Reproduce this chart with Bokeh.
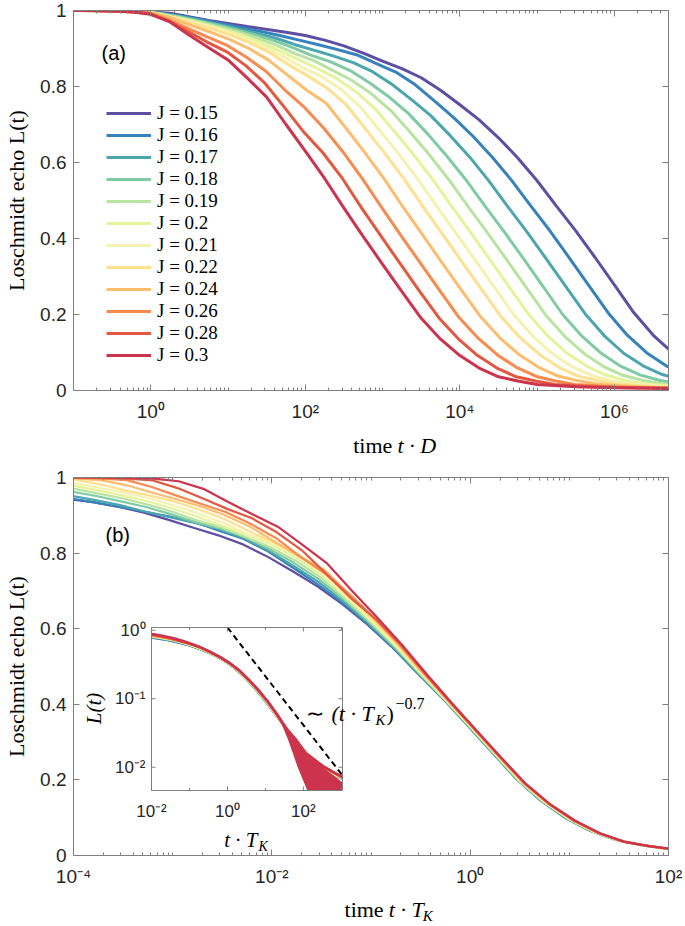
import numpy as np
from bokeh.plotting import figure
from bokeh.models import (FixedTicker, CustomJSTickFormatter, LogAxis, LinearAxis,
                          Legend, LegendItem, Label, Range1d, LogScale)
from bokeh.layouts import column
from bokeh.core.properties import value
from bokeh.embed import file_html
from bokeh.resources import INLINE

# ---------------- data ----------------
J_VALUES = ["0.15", "0.16", "0.17", "0.18", "0.19", "0.2", "0.21", "0.22", "0.24", "0.26", "0.28", "0.3"]
COLORS = ["#5e4fa2", "#3682ba", "#4ba6ae", "#80cba3", "#b9e3a0", "#e5f49b",
          "#f5f2b0", "#fee08f", "#fdbd6c", "#f68a4f", "#e35840", "#cc334c"]

# sample grid: decades of time relative to each curve's half-decay time
DECADES = [-7, -6.5, -6, -5.5, -5, -4.5, -4, -3.5, -3.25, -3, -2.75, -2.5, -2.25, -2, -1.75, -1.5,
           -1.25, -1, -0.75, -0.5, -0.25, 0, 0.25, 0.5, 0.75, 1, 1.25, 1.5, 1.75, 2, 2.25, 2.5,
           3, 3.5, 4, 4.5, 5, 6]
# log10(t*D) of the half-decay point of each curve
LOG10_TD_HALF = [5.25, 4.92, 4.62, 4.33, 4.11, 3.90, 3.71, 3.53, 3.27, 2.99, 2.73, 2.50]
# log10(T_K / D) of each curve (time rescaling of panel b)
LOG10_TK_OVER_D = [-5.79, -5.46, -5.15, -4.85, -4.62, -4.40, -4.20, -4.01, -3.74, -3.45, -3.18, -2.94]

ECHO_J015 = [1.0, 1.0, 1.0, 0.999, 0.993, 0.974, 0.958, 0.943, 0.934, 0.922, 0.907, 0.888, 0.867, 0.847, 0.823, 0.79,
             0.752, 0.712, 0.665, 0.612, 0.552, 0.485, 0.42, 0.35, 0.278, 0.205, 0.146, 0.1, 0.066, 0.043, 0.028, 0.019,
             0.01, 0.007, 0.006, 0.005, 0.005, 0.005]
ECHO_J016 = [1.0, 1.0, 1.0, 1.0, 0.998, 0.985, 0.965, 0.945, 0.934, 0.922, 0.91, 0.897, 0.883, 0.86, 0.838, 0.805,
             0.762, 0.718, 0.669, 0.614, 0.553, 0.485, 0.419, 0.348, 0.276, 0.204, 0.145, 0.099, 0.065, 0.042, 0.028, 0.019,
             0.01, 0.007, 0.006, 0.005, 0.005, 0.005]
ECHO_J017 = [1.0, 1.0, 1.0, 1.0, 0.999, 0.993, 0.975, 0.952, 0.94, 0.927, 0.91, 0.895, 0.88, 0.863, 0.839, 0.806,
             0.766, 0.724, 0.672, 0.616, 0.553, 0.484, 0.417, 0.346, 0.274, 0.202, 0.144, 0.098, 0.065, 0.042, 0.028, 0.018,
             0.01, 0.007, 0.006, 0.005, 0.005, 0.005]
ECHO_J018 = [1.0, 1.0, 1.0, 1.0, 1.0, 0.998, 0.985, 0.963, 0.951, 0.937, 0.922, 0.903, 0.882, 0.865, 0.842, 0.81,
             0.773, 0.73, 0.676, 0.617, 0.554, 0.484, 0.416, 0.345, 0.273, 0.2, 0.143, 0.098, 0.064, 0.041, 0.027, 0.018,
             0.01, 0.007, 0.006, 0.005, 0.005, 0.005]
ECHO_J019 = [1.0, 1.0, 1.0, 1.0, 1.0, 0.999, 0.992, 0.971, 0.958, 0.945, 0.929, 0.91, 0.887, 0.868, 0.842, 0.815,
             0.78, 0.736, 0.679, 0.619, 0.554, 0.483, 0.414, 0.343, 0.271, 0.199, 0.142, 0.097, 0.063, 0.04, 0.027, 0.018,
             0.01, 0.007, 0.006, 0.005, 0.005, 0.005]
ECHO_J020 = [1.0, 1.0, 1.0, 1.0, 1.0, 1.0, 0.995, 0.978, 0.966, 0.952, 0.937, 0.918, 0.896, 0.872, 0.848, 0.822,
             0.787, 0.742, 0.683, 0.621, 0.555, 0.483, 0.413, 0.341, 0.269, 0.198, 0.141, 0.096, 0.063, 0.04, 0.026, 0.017,
             0.01, 0.007, 0.006, 0.005, 0.005, 0.005]
ECHO_J021 = [1.0, 1.0, 1.0, 1.0, 1.0, 1.0, 0.997, 0.985, 0.973, 0.96, 0.945, 0.926, 0.905, 0.88, 0.85, 0.826,
             0.793, 0.747, 0.685, 0.622, 0.555, 0.482, 0.411, 0.34, 0.268, 0.196, 0.14, 0.095, 0.062, 0.039, 0.026, 0.017,
             0.01, 0.007, 0.006, 0.005, 0.005, 0.005]
ECHO_J022 = [1.0, 1.0, 1.0, 1.0, 1.0, 1.0, 0.999, 0.994, 0.982, 0.966, 0.952, 0.936, 0.915, 0.89, 0.858, 0.828,
             0.796, 0.752, 0.688, 0.624, 0.556, 0.482, 0.41, 0.338, 0.266, 0.195, 0.139, 0.095, 0.061, 0.038, 0.026, 0.017,
             0.01, 0.007, 0.006, 0.005, 0.005, 0.005]
ECHO_J024 = [1.0, 1.0, 1.0, 1.0, 1.0, 1.0, 1.0, 0.997, 0.993, 0.98, 0.961, 0.943, 0.924, 0.9, 0.87, 0.83,
             0.79, 0.756, 0.692, 0.626, 0.557, 0.481, 0.409, 0.336, 0.264, 0.194, 0.138, 0.094, 0.061, 0.038, 0.026, 0.017,
             0.01, 0.007, 0.006, 0.005, 0.005, 0.005]
ECHO_J026 = [1.0, 1.0, 1.0, 1.0, 1.0, 1.0, 1.0, 0.999, 0.997, 0.993, 0.975, 0.952, 0.93, 0.908, 0.877, 0.84,
             0.79, 0.745, 0.69, 0.627, 0.557, 0.481, 0.407, 0.335, 0.263, 0.192, 0.137, 0.093, 0.06, 0.037, 0.025, 0.016,
             0.01, 0.007, 0.006, 0.005, 0.005, 0.005]
ECHO_J028 = [1.0, 1.0, 1.0, 1.0, 1.0, 1.0, 1.0, 1.0, 0.999, 0.997, 0.992, 0.972, 0.945, 0.917, 0.892, 0.855,
             0.808, 0.745, 0.68, 0.625, 0.558, 0.48, 0.406, 0.333, 0.261, 0.191, 0.136, 0.092, 0.059, 0.036, 0.025, 0.016,
             0.01, 0.007, 0.006, 0.005, 0.005, 0.005]
ECHO_J030 = [1.0, 1.0, 1.0, 1.0, 1.0, 1.0, 1.0, 1.0, 1.0, 0.999, 0.997, 0.99, 0.97, 0.935, 0.902, 0.87,
             0.822, 0.772, 0.70, 0.63, 0.558, 0.48, 0.405, 0.332, 0.26, 0.19, 0.135, 0.092, 0.059, 0.036, 0.025, 0.016,
             0.01, 0.007, 0.006, 0.005, 0.005, 0.005]
ECHO = [ECHO_J015, ECHO_J016, ECHO_J017, ECHO_J018, ECHO_J019, ECHO_J020,
        ECHO_J021, ECHO_J022, ECHO_J024, ECHO_J026, ECHO_J028, ECHO_J030]

# ticks
Y_TICKS = [0, 0.2, 0.4, 0.6, 0.8, 1]
X_TICKS_A = [1e0, 1e2, 1e4, 1e6]
X_TICKS_B = [1e-4, 1e-2, 1e0, 1e2]
INSET_X_TICKS = [1e-2, 1e0, 1e2]
INSET_X_MINOR = [1e-1, 1e1, 1e3]
INSET_Y_TICKS = [1e-2, 1e-1, 1e0]

# guide line ~ (t T_K)^-0.7 in the inset
POWER_LAW_X = [1.0, 10 ** 3.03]
POWER_LAW_Y = [10 ** 0.04, 10 ** -2.12]
# envelope of the noisy tail of J=0.3 in the inset
NOISE_X = [10 ** 1.3, 10 ** 1.6, 10 ** 1.85, 10 ** 2.1, 10 ** 3.03]
NOISE_TOP = [0.063, 0.036, 0.024, 0.015, 0.006]
NOISE_BOTTOM = [0.063, 0.025, 0.010, 0.0046, 0.0046]

# ---------------- style ----------------
GRAY = "#7f7f7f"
TXT = "#262626"
SANS = "Liberation Sans"
SERIF = "Liberation Serif"
W = 683

SUP_JS = """
const sup = {"-": "\u207b", "0": "\u2070", "1": "\u00b9", "2": "\u00b2", "3": "\u00b3",
             "4": "\u2074", "5": "\u2075", "6": "\u2076", "7": "\u2077", "8": "\u2078", "9": "\u2079"};
const e = Math.round(Math.log10(tick));
let s = "";
for (const c of String(e)) { s += sup[c]; }
return "10" + s;
"""


def minor_list(lo, hi, majors):
    out = []
    for k in range(lo, hi + 1):
        for m in range(1, 10):
            v = m * 10.0 ** k
            if not any(abs(v - M) / M < 1e-9 for M in majors):
                out.append(v)
    return out


def style_axis(ax):
    ax.axis_line_color = GRAY
    ax.major_tick_line_color = GRAY
    ax.minor_tick_line_color = GRAY
    ax.major_tick_in = 6
    ax.major_tick_out = 0
    ax.minor_tick_in = 3
    ax.minor_tick_out = 0
    ax.major_label_text_font = SANS
    ax.major_label_text_font_size = "19px"
    ax.major_label_text_color = TXT
    ax.major_label_standoff = 7
    ax.axis_label_text_font = SERIF
    ax.axis_label_text_font_size = "22px"
    ax.axis_label_text_font_style = "normal"
    ax.axis_label_text_color = "black"


def hide_labels(ax):
    ax.formatter = CustomJSTickFormatter(code="return '';")
    ax.major_label_text_font_size = "0px"
    ax.major_label_standoff = 0


def make_fig(h, xr, top, bottom, xticks, xminor):
    p = figure(width=W, height=h, x_axis_type="log", x_range=xr, y_range=(0, 1),
               output_backend="svg", toolbar_location=None,
               min_border_left=73, min_border_right=15,
               min_border_top=top, min_border_bottom=bottom)
    p.grid.visible = False
    p.outline_line_color = None
    xa = p.xaxis[0]
    xa.ticker = FixedTicker(ticks=xticks, minor_ticks=xminor)
    xa.formatter = CustomJSTickFormatter(code=SUP_JS)
    style_axis(xa)
    xa.major_label_standoff = 10
    ya = p.yaxis[0]
    ya.ticker = FixedTicker(ticks=Y_TICKS, minor_ticks=[])
    ya.formatter = CustomJSTickFormatter(code="return String(tick);")
    style_axis(ya)
    ya.axis_label = "Loschmidt echo L(t)"
    ya.axis_label_standoff = 8
    top_ax = LogAxis(ticker=FixedTicker(ticks=xticks, minor_ticks=xminor))
    right_ax = LinearAxis(ticker=FixedTicker(ticks=Y_TICKS, minor_ticks=[]))
    for ax in (top_ax, right_ax):
        style_axis(ax)
        hide_labels(ax)
    p.add_layout(top_ax, "above")
    p.add_layout(right_ax, "right")
    return p


def strip(h):
    """A bare strip (pixel coordinates, y downwards) that carries an axis title."""
    s = figure(width=W, height=h, x_range=Range1d(0, W), y_range=Range1d(h, 0),
               output_backend="svg", toolbar_location=None, min_border=0,
               x_axis_location=None, y_axis_location=None)
    s.grid.visible = False
    s.outline_line_color = None
    return s


def txt(p, x, y, s, size, font=SERIF, style="normal", align="left", base="middle", color="black", **kw):
    p.add_layout(Label(x=x, y=y, text=s, text_font=font, text_font_size=size, text_font_style=style,
                       text_align=align, text_baseline=base, text_color=color, **kw))


# ---------------- panel (a) ----------------
HA = 430
FA_T, FA_B, FA_L, FA_R = 10, 390, 73, 668
pa = make_fig(HA, (0.1, 10 ** 6.7), FA_T, HA - FA_B, X_TICKS_A, minor_list(-1, 6, X_TICKS_A))
d_arr = np.array(DECADES)
items = []
for j, col, ech, half in zip(J_VALUES, COLORS, ECHO, LOG10_TD_HALF):
    r = pa.line(10.0 ** (d_arr + half), ech, line_color=col, line_width=3)
    items.append(LegendItem(label=value("J = " + j), renderers=[r]))

legend = Legend(items=items, location=(33, 24))
legend.label_text_font = SERIF
legend.label_text_font_size = "19px"
legend.label_text_color = "black"
legend.glyph_width = 45
legend.glyph_height = 22
legend.label_height = 22
legend.label_standoff = 6
legend.spacing = 0
legend.padding = 0
legend.margin = 0
legend.border_line_alpha = 0
legend.background_fill_alpha = 0
pa.add_layout(legend)


def xa_(px):
    return 10 ** (-1 + (px - FA_L) / (FA_R - FA_L) * 7.7)


def ya_(py):
    return (FA_B - py) / (FA_B - FA_T)


txt(pa, xa_(101), ya_(52), "(a)", "20px", font=SANS)

# axis title strip under panel (a): page y 430..464
sa = strip(34)
txt(sa, 366, 15, "time", "22px", align="right")
txt(sa, 372, 15, "t \u00b7 D", "22px", style="italic")

# ---------------- panel (b) ----------------
PB_TOP = HA + 34
HB = 426
FR_L, FR_R, FR_T, FR_B = 73, 668, 477, 855
pb = make_fig(HB, (1e-4, 1e2), FR_T - PB_TOP, PB_TOP + HB - FR_B, X_TICKS_B, minor_list(-4, 2, X_TICKS_B))

for col, ech, half, tk in zip(COLORS, ECHO, LOG10_TD_HALF, LOG10_TK_OVER_D):
    pb.line(10.0 ** (d_arr + half + tk), ech, line_color=col, line_width=2.2)


def xb_(px):
    return 10 ** (-4 + (px - FR_L) / (FR_R - FR_L) * 6)


def yb_(py):
    return (FR_B - py) / (FR_B - FR_T)


txt(pb, xb_(105), yb_(534), "(b)", "20px", font=SANS)

# inset geometry (pixel box inside panel b frame)
IN_L, IN_R, IN_T, IN_B = 151, 342, 627, 790
IX_LO, IX_HI = -2.0, 3.03
IY_LO, IY_HI = -2.34, 0.04
fx0 = (IN_L - FR_L) / (FR_R - FR_L)
fx1 = (IN_R - FR_L) / (FR_R - FR_L)
dx = (IX_HI - IX_LO) / (fx1 - fx0)
xs0 = IX_LO - fx0 * dx
fy0 = (FR_B - IN_B) / (FR_B - FR_T)
fy1 = (FR_B - IN_T) / (FR_B - FR_T)
dy = (IY_HI - IY_LO) / (fy1 - fy0)
ys0 = IY_LO - fy0 * dy
pb.extra_x_ranges = {"ix": Range1d(10 ** xs0, 10 ** (xs0 + dx))}
pb.extra_y_ranges = {"iy": Range1d(10 ** ys0, 10 ** (ys0 + dy))}
pb.extra_x_scales = {"ix": LogScale()}
pb.extra_y_scales = {"iy": LogScale()}
PXD_X = (IN_R - IN_L) / (IX_HI - IX_LO)
PXD_Y = (IN_B - IN_T) / (IY_HI - IY_LO)
IR = dict(x_range_name="ix", y_range_name="iy")


def xi_(px):
    return 10 ** (IX_LO + (px - IN_L) / PXD_X)


def yi_(py):
    return 10 ** (IY_HI - (py - IN_T) / PXD_Y)


x_lo, x_hi, y_lo, y_hi = 10 ** IX_LO, 10 ** IX_HI, 10 ** IY_LO, 10 ** IY_HI
pb.quad(left=x_lo, right=x_hi, bottom=y_lo, top=y_hi, fill_color="white", line_color=None, **IR)
for col, ech, half, tk in zip(COLORS, ECHO, LOG10_TD_HALF, LOG10_TK_OVER_D):
    lx = d_arr + half + tk
    i0 = max(int(np.nonzero(lx < IX_LO)[0].max()), 0)
    i1 = int(np.nonzero(lx > IX_HI)[0].min())
    pb.line(10.0 ** lx[i0:i1 + 1], ech[i0:i1 + 1], line_color=col, line_width=2.6, **IR)
pb.varea(x=NOISE_X, y1=NOISE_BOTTOM, y2=NOISE_TOP, fill_color=COLORS[-1], **IR)
# white masks just outside the inset box (only where the inset curves overshoot)
pb.quad(left=xi_(IN_L - 24), right=x_lo, bottom=yi_(IN_T + 40), top=y_hi,
        fill_color="white", line_color=None, **IR)
pb.quad(left=x_hi, right=xi_(IN_R + 24), bottom=y_lo, top=yi_(IN_B - 60),
        fill_color="white", line_color=None, **IR)
pb.line(POWER_LAW_X, POWER_LAW_Y, line_color="black", line_width=2, line_dash="6 4", **IR)
pb.quad(left=x_lo, right=x_hi, bottom=y_lo, top=y_hi, fill_color=None, line_color=GRAY, line_width=1, **IR)

# inset ticks
tk_len = 4
for xt in INSET_X_TICKS + INSET_X_MINOR:
    L = tk_len if xt in INSET_X_TICKS else 2.5
    pb.segment(x0=xt, y0=y_lo, x1=xt, y1=yi_(IN_B - L), line_color=GRAY, line_width=1, **IR)
    pb.segment(x0=xt, y0=y_hi, x1=xt, y1=yi_(IN_T + L), line_color=GRAY, line_width=1, **IR)
for yt in INSET_Y_TICKS:
    pb.segment(x0=x_lo, y0=yt, x1=xi_(IN_L + tk_len), y1=yt, line_color=GRAY, line_width=1, **IR)
    pb.segment(x0=x_hi, y0=yt, x1=xi_(IN_R - tk_len), y1=yt, line_color=GRAY, line_width=1, **IR)

SUP = {"-": "\u207b", "0": "\u2070", "1": "\u00b9", "2": "\u00b2"}


def pow_label(v):
    e = int(round(np.log10(v)))
    return "10" + "".join(SUP[c] for c in str(e))


for xt in INSET_X_TICKS:
    txt(pb, xt, yi_(IN_B + 21), pow_label(xt), "17px", font=SANS, align="center", color=TXT, **IR)
for yt in INSET_Y_TICKS:
    txt(pb, xi_(IN_L - 6), yt, pow_label(yt), "17px", font=SANS, align="right", color=TXT, **IR)
txt(pb, xi_(257), yi_(839), "t \u00b7 T", "21px", style="italic", align="right", **IR)
txt(pb, xi_(258), yi_(846), "K", "14px", style="italic", **IR)
pb.add_layout(Label(x=xi_(93), y=yi_(708), text="L(t)", text_font=SERIF, text_font_size="21px",
                    text_font_style="italic", angle=np.pi / 2, text_align="center",
                    text_baseline="middle", text_color="black", **IR))

# power-law annotation
txt(pb, xb_(305), yb_(713), "\u223c", "22px")
txt(pb, xb_(331), yb_(713), "(t \u00b7 T", "22px", style="italic")
txt(pb, xb_(375), yb_(719), "K", "15px", style="italic")
txt(pb, xb_(386), yb_(713), ")", "22px")
txt(pb, xb_(395), yb_(703), "\u22120.7", "16px")

# axis title strip under panel (b): page y 890..924
sb = strip(34)
txt(sb, 356, 19, "time", "22px", align="right")
txt(sb, 362, 19, "t \u00b7 T", "22px", style="italic")
txt(sb, 401, 25, "K", "15px", style="italic")

layout = column(pa, sa, pb, sb, spacing=0)
open("out.html", "w").write(file_html(layout, INLINE))
